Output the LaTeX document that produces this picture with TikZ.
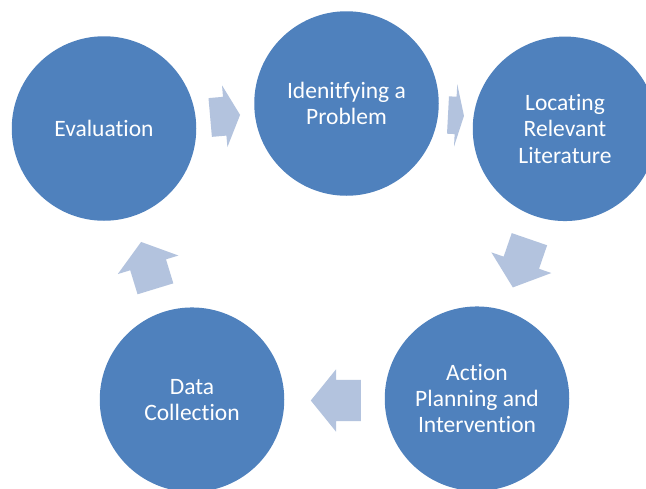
\documentclass[tikz,border=0pt]{standalone}
\usepackage{fontspec}
\setmainfont[Ligatures={NoCommon},Contextuals={NoAlternate}]{Carlito}
\usetikzlibrary{shapes.arrows}
\definecolor{circblue}{HTML}{4F81BD}
\definecolor{arrowblue}{HTML}{B3C3DE}
\tikzset{
  stage/.style={circle, fill=circblue, draw=none, minimum size=184.5pt, inner sep=0pt,
    text=white, align=center, font=\fontsize{23.5}{26.2}\selectfont},
  cyclearrow/.style={single arrow, fill=arrowblue, draw=none, inner xsep=0pt,
    text height=0pt, text depth=0pt, anchor=tail}
}
\begin{document}
\begin{tikzpicture}[x=1pt,y=-1pt]
\useasboundingbox (0,0) rectangle (646,488);
\clip (0,0) rectangle (646,488);
\fill[white] (0,0) rectangle (646,488);
\node[stage] (eval) at (104,128.5) {Evaluation};
\node[stage] (ident) at (346.5,103.5) {Idenitfying a\\Problem};
\node[stage] (locate) at (565,128.8) {Locating\\Relevant\\Literature};
\node[stage] (action) at (477,398.7) {Action\\Planning and\\Intervention};
\node[stage] (data) at (192,399.7) {Data\\Collection};
\node[cyclearrow, minimum height=30pt, inner ysep=19.25pt, single arrow head extend=11.5pt,
  single arrow tip angle=127, rotate=5] (a1) at (210,117.5) {};
\node[cyclearrow, minimum height=16pt, inner ysep=18.5pt, single arrow head extend=12.5pt,
  single arrow tip angle=150, rotate=-3] (a2) at (447.8,115) {};
\node[cyclearrow, minimum height=51pt, inner ysep=18.5pt, single arrow head extend=13pt,
  single arrow tip angle=101, rotate=-109] (a3) at (529.5,239) {};
\node[cyclearrow, minimum height=50pt, inner ysep=20.5pt, single arrow head extend=10.5pt,
  single arrow tip angle=102, rotate=180] (a4) at (361,400.5) {};
\node[cyclearrow, minimum height=49pt, inner ysep=18.5pt, single arrow head extend=13pt,
  single arrow tip angle=106, rotate=107] (a5) at (155.5,289) {};
\end{tikzpicture}
\end{document}
